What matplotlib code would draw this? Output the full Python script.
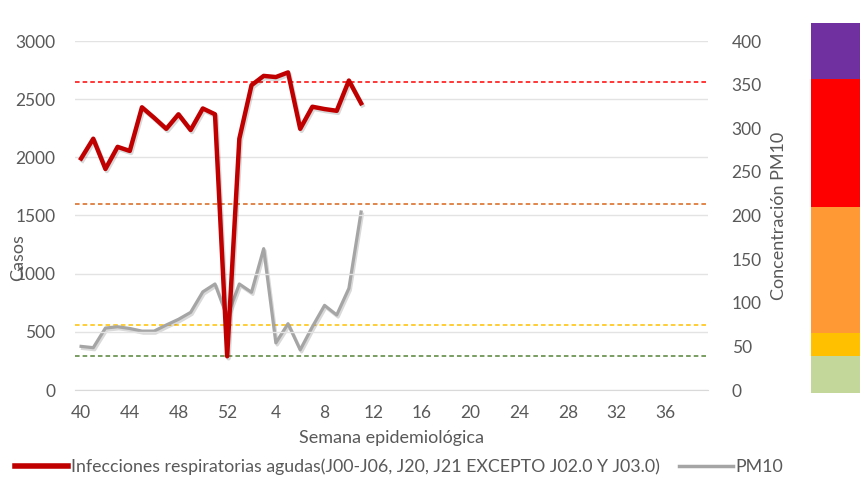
import matplotlib.pyplot as plt
import matplotlib.patheffects as pe

plt.rcParams['font.family'] = ['Lato', 'DejaVu Sans']

# semanas epidemiologicas 40-52 y 1-39
weeks = list(range(40, 53)) + list(range(1, 40))

ira = [1990, 2160, 1900, 2090, 2055, 2430, 2340, 2245, 2370, 2235, 2420, 2370,
       290, 2160, 2620, 2700, 2690, 2730, 2245, 2435, 2415, 2400, 2660, 2465]
pm10 = [50, 48.5, 71, 72.5, 70.5, 67.5, 67.5, 74.5, 81, 89, 112.5, 121.5,
        84, 121.5, 112, 162, 54, 76, 46, 72.5, 97, 86, 116.5, 204]

# umbrales PM10 (lineas punteadas) y franjas de color
limits = [39, 75, 213, 353]
limit_colors = ['#548235', '#FFC000', '#D9651A', '#FF0000']
band_edges = [-3, 39, 65, 210, 356, 421]
band_colors = ['#C4D79B', '#FFC000', '#FF9933', '#FF0000', '#7030A0']

txt = '#595959'
fs_tick = 12.5
fs_lab = 13

fig = plt.figure(figsize=(8.66, 4.9), dpi=100)
ax = fig.add_axes([75 / 866, 1 - 390 / 490, 633 / 866, 349 / 490])
ax2 = ax.twinx()

x = list(range(len(weeks)))
ax.set_xlim(-0.5, len(weeks) - 0.5)
ax.set_ylim(0, 3000)
ax.set_yticks(range(0, 3001, 500))
ax.grid(axis='y', color='#E3E3E3', lw=1)
ax.set_axisbelow(True)
ax.set_xticks(x[::4])
ax.set_xticklabels([str(w) for w in weeks[::4]])
for a in (ax, ax2):
    for s in a.spines.values():
        s.set_visible(False)
    a.tick_params(length=0, labelsize=fs_tick, colors=txt)
ax.spines['bottom'].set_visible(True)
ax.spines['bottom'].set_color('#D9D9D9')
ax.tick_params(axis='y', pad=14)
ax.tick_params(axis='x', pad=11)

ax2.set_ylim(0, 400)
ax2.set_yticks(range(0, 401, 50))
ax2.tick_params(axis='y', pad=17)

for v, c in zip(limits, limit_colors):
    ax2.axhline(v, color=c, lw=1.1, ls=(0, (3, 2)))

shadow = [pe.SimpleLineShadow(offset=(1, -1.5), alpha=0.15), pe.Normal()]
ax2.plot(x[:len(pm10)], pm10, color='#A5A5A5', lw=2.3, zorder=3,
         path_effects=shadow, solid_joinstyle='round')
ax.plot(x[:len(ira)], ira, color='#C00000', lw=3.2, zorder=4,
        path_effects=shadow, solid_joinstyle='round')
ax.set_zorder(ax2.get_zorder() + 1)
ax.patch.set_visible(False)

ax.set_xlabel('Semana epidemiológica', fontsize=fs_lab, color=txt, labelpad=6)
ax.set_ylabel('Casos', fontsize=fs_lab, color=txt)
ax.yaxis.set_label_coords(-0.078, 0.38)
ax2.set_ylabel('Concentración PM10', fontsize=fs_lab, color=txt)
ax2.yaxis.set_label_coords(1.1, 0.5)

# franjas de calidad del aire a la derecha
bx = fig.add_axes([811 / 866, 1 - 390 / 490, 49 / 866, 349 / 490])
bx.set_ylim(0, 400)
bx.set_xlim(0, 1)
bx.axis('off')
for lo, hi, c in zip(band_edges[:-1], band_edges[1:], band_colors):
    bx.bar(0.5, hi - lo, bottom=lo, width=1, color=c, clip_on=False)

h1 = plt.Line2D([], [], color='#C00000', lw=4)
h2 = plt.Line2D([], [], color='#A5A5A5', lw=2.5)
fig.legend([h1, h2],
           ['Infecciones respiratorias agudas(J00-J06, J20, J21 EXCEPTO J02.0 Y J03.0)', 'PM10'],
           loc='center left', bbox_to_anchor=(15 / 866, 1 - 467 / 490), ncol=2,
           frameon=False, fontsize=12.8, labelcolor=txt, handlelength=3.0,
           handletextpad=0.15, columnspacing=1.1, borderpad=0, borderaxespad=0)

fig.savefig('out.png', dpi=100)
